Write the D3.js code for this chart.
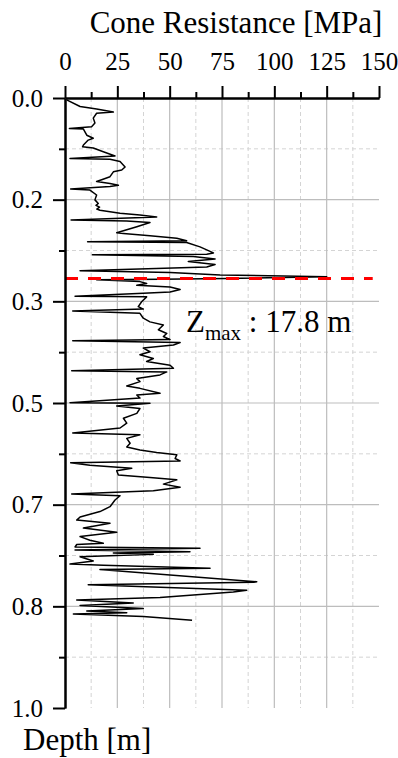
<!DOCTYPE html>
<html>
<head>
<meta charset="utf-8">
<script src="https://cdn.jsdelivr.net/npm/d3@7"></script>
<style>
  html, body { margin: 0; padding: 0; background: #fff; }
  svg { display: block; font-family: 'Liberation Serif', 'Times New Roman', serif; }
</style>
</head>
<body>
<div id="chart"></div>
<script>
// depth (normalised) and cone resistance [MPa]
const depthVals = [
  0.003, 0.014, 0.018, 0.023, 0.025, 0.033, 0.041, 0.047, 0.050, 0.051,
  0.061, 0.066, 0.069, 0.077, 0.080, 0.082, 0.088, 0.095, 0.099, 0.1005,
  0.104, 0.113, 0.118, 0.121, 0.129, 0.134, 0.137, 0.140, 0.143, 0.145,
  0.149, 0.151, 0.159, 0.167, 0.173, 0.176, 0.179, 0.182, 0.184, 0.189,
  0.192, 0.195, 0.200, 0.2016, 0.204, 0.211, 0.221, 0.222, 0.226, 0.230,
  0.234, 0.2355, 0.237, 0.244, 0.249, 0.254, 0.256, 0.257, 0.260, 0.264,
  0.268, 0.273, 0.277, 0.283, 0.286, 0.290, 0.293, 0.296, 0.297, 0.298,
  0.301, 0.304, 0.307, 0.310, 0.314, 0.318, 0.320, 0.325, 0.326, 0.334,
  0.342, 0.346, 0.349, 0.353, 0.361, 0.367, 0.372, 0.380, 0.386, 0.391,
  0.396, 0.398, 0.401, 0.405, 0.410, 0.416, 0.421, 0.427, 0.432, 0.438,
  0.443, 0.447, 0.449, 0.454, 0.460, 0.465, 0.472, 0.476, 0.484, 0.487,
  0.492, 0.4995, 0.5005, 0.505, 0.509, 0.517, 0.525, 0.533, 0.541, 0.549,
  0.552, 0.558, 0.566, 0.572, 0.577, 0.581, 0.585, 0.591, 0.595, 0.598,
  0.602, 0.607, 0.611, 0.618, 0.622, 0.626, 0.633, 0.638, 0.644, 0.649,
  0.652, 0.659, 0.670, 0.678, 0.687, 0.692, 0.697, 0.705, 0.712, 0.719,
  0.725, 0.730, 0.732, 0.736, 0.738, 0.741, 0.744, 0.746, 0.748, 0.752,
  0.759, 0.764, 0.766, 0.771, 0.773, 0.793, 0.794, 0.798, 0.807, 0.810,
  0.819, 0.823, 0.828, 0.832, 0.837, 0.841, 0.844, 0.846, 0.850, 0.856
];
const qcVals = [
  0.8, 7.2, 15.1, 23.1, 15.1, 13.5, 14.3, 12.7, 2.1, 8.8,
  10.4, 13.5, 11.1, 8.8, 8.4, 13.5, 18.3, 23.9, 2.4, 21.5,
  26.3, 28.7, 27.1, 23.1, 21.5, 17.5, 15.1, 21.5, 25.5, 21.5,
  2.7, 11.9, 15.1, 14.3, 15.9, 14.8, 16.5, 15.2, 16.7, 26.3,
  35.8, 43.8, 2.9, 29.5, 40.6, 34.3, 24.7, 27.9, 40.6, 53.4,
  58.1, 10.8, 58.1, 64.5, 67.7, 70.9, 67.7, 13.1, 61.3, 71.7,
  58.9, 71.7, 67.7, 7.2, 50.2, 74.1, 125, 77.3, 45.4, 15.1,
  35.8, 39, 34.3, 50.2, 55, 50.2, 37.4, 4.8, 39, 36.6,
  35, 37.4, 3.7, 35.8, 37.4, 40.6, 47, 44.6, 48.6, 47,
  50.2, 3.7, 55, 51.8, 37.4, 40.6, 35.8, 42.2, 39, 50.2,
  51.8, 3.2, 48.6, 45.4, 34.3, 35.8, 29.5, 35.8, 45.4, 34.3,
  35.8, 2.4, 40.6, 24.7, 35.8, 34.3, 27.9, 29.5, 26.3, 3.7,
  35.8, 29.5, 31.1, 29.5, 35.8, 43.8, 53.4, 52.6, 55, 2.7,
  11.9, 31.9, 24.7, 25.5, 40.6, 53.4, 47, 55, 42.2, 3.2,
  26.3, 23.9, 21.5, 16.7, 7.2, 5.6, 21.5, 8.8, 24.7, 7.2,
  11.9, 18.3, 5.6, 4.8, 64.5, 4.8, 59.7, 23.1, 42.2, 7.2,
  13.5, 2.4, 18.3, 69.3, 16.7, 91.6, 90, 11.1, 86.8, 80.4,
  45.4, 5.6, 32.6, 7.2, 37.4, 10.4, 29.5, 4, 37.4, 60.7
];

const xTicks = [0, 25, 50, 75, 100, 125, 150];
const xMinor = [12.5, 37.5, 62.5, 87.5, 112.5, 137.5];
const yTicks = [0, 1 / 6, 2 / 6, 3 / 6, 4 / 6, 5 / 6, 1];
const yMinor = [1 / 12, 3 / 12, 5 / 12, 7 / 12, 9 / 12, 11 / 12];
const zMaxDepth = 0.296;
const zMaxLabel = ' : 17.8 m';

const width = 398;
const height = 758;

const svg = d3.select('#chart').append('svg').attr('width', width).attr('height', height);

const x = d3.scaleLinear().domain([0, 150]).range([65, 379]);
const y = d3.scaleLinear().domain([0, 1]).range([98, 708]);

// grid
const grid = svg.append('g');
grid
  .selectAll('line.vminor')
  .data(xMinor)
  .enter()
  .append('line')
  .attr('x1', d => x(d))
  .attr('x2', d => x(d))
  .attr('y1', y(0))
  .attr('y2', y(1))
  .style('stroke', '#d4d4d4')
  .style('stroke-dasharray', '4,3');
grid
  .selectAll('line.hminor')
  .data(yMinor)
  .enter()
  .append('line')
  .attr('x1', x(0))
  .attr('x2', x(150))
  .attr('y1', d => y(d))
  .attr('y2', d => y(d))
  .style('stroke', '#d4d4d4')
  .style('stroke-dasharray', '4,3');
grid
  .selectAll('line.vmajor')
  .data(xTicks.slice(1, -1))
  .enter()
  .append('line')
  .attr('x1', d => x(d))
  .attr('x2', d => x(d))
  .attr('y1', y(0))
  .attr('y2', y(1))
  .style('stroke', '#bdbdbd')
  .style('stroke-width', 1.2);
grid
  .selectAll('line.hmajor')
  .data(yTicks.slice(1, -1))
  .enter()
  .append('line')
  .attr('x1', x(0))
  .attr('x2', x(150))
  .attr('y1', d => y(d))
  .attr('y2', d => y(d))
  .style('stroke', '#bdbdbd')
  .style('stroke-width', 1.2);

// profile
const line = d3
  .line()
  .x(d => x(d[1]))
  .y(d => y(d[0]));
svg
  .append('path')
  .datum(d3.zip(depthVals, qcVals))
  .attr('d', line)
  .style('fill', 'none')
  .style('stroke', '#000')
  .style('stroke-width', 1.5)
  .style('stroke-linejoin', 'round');

// Zmax marker
svg
  .append('line')
  .attr('x1', x(0))
  .attr('x2', x(147))
  .attr('y1', y(zMaxDepth))
  .attr('y2', y(zMaxDepth))
  .style('stroke', '#ff0000')
  .style('stroke-width', 3)
  .style('stroke-dasharray', '13,10');

const zt = svg
  .append('text')
  .attr('x', 186)
  .attr('y', 332)
  .style('font-size', '31px')
  .style('fill', '#000');
zt.append('tspan').text('Z');
zt.append('tspan').attr('dy', 8).style('font-size', '21px').text('max');
zt.append('tspan').attr('dy', -8).text(zMaxLabel);

// axes
function styleAxis(g) {
  g.selectAll('.domain').style('stroke', '#000').style('stroke-width', 2);
  g.selectAll('.tick line').style('stroke', '#000').style('stroke-width', 2);
  g.selectAll('.tick text').style('font-family', 'Liberation Serif, Times New Roman, serif').style('fill', '#000');
}

svg
  .append('g')
  .attr('transform', `translate(0,${y(0)})`)
  .call(d3.axisTop(x).tickValues(xMinor).tickSize(6).tickSizeOuter(0).tickFormat(''))
  .call(styleAxis);
svg
  .append('g')
  .attr('transform', `translate(0,${y(0)})`)
  .call(d3.axisTop(x).tickValues(xTicks).tickSize(12).tickSizeOuter(0).tickPadding(16))
  .call(styleAxis)
  .call(g => g.selectAll('.tick text').style('font-size', '25px'));

svg
  .append('g')
  .attr('transform', `translate(${x(0)},0)`)
  .call(d3.axisLeft(y).tickValues(yMinor).tickSize(6).tickSizeOuter(0).tickFormat(''))
  .call(styleAxis);
svg
  .append('g')
  .attr('transform', `translate(${x(0)},0)`)
  .call(d3.axisLeft(y).tickValues(yTicks).tickSize(12).tickSizeOuter(0).tickPadding(10).tickFormat(d3.format('.1f')))
  .call(styleAxis)
  .call(g => g.selectAll('.tick text').style('font-size', '25px'));

// titles
svg
  .append('text')
  .attr('x', 236)
  .attr('y', 33)
  .attr('text-anchor', 'middle')
  .style('font-size', '31px')
  .text('Cone Resistance [MPa]');
svg
  .append('text')
  .attr('x', 23)
  .attr('y', 750)
  .style('font-size', '31px')
  .text('Depth [m]');
</script>
</body>
</html>
